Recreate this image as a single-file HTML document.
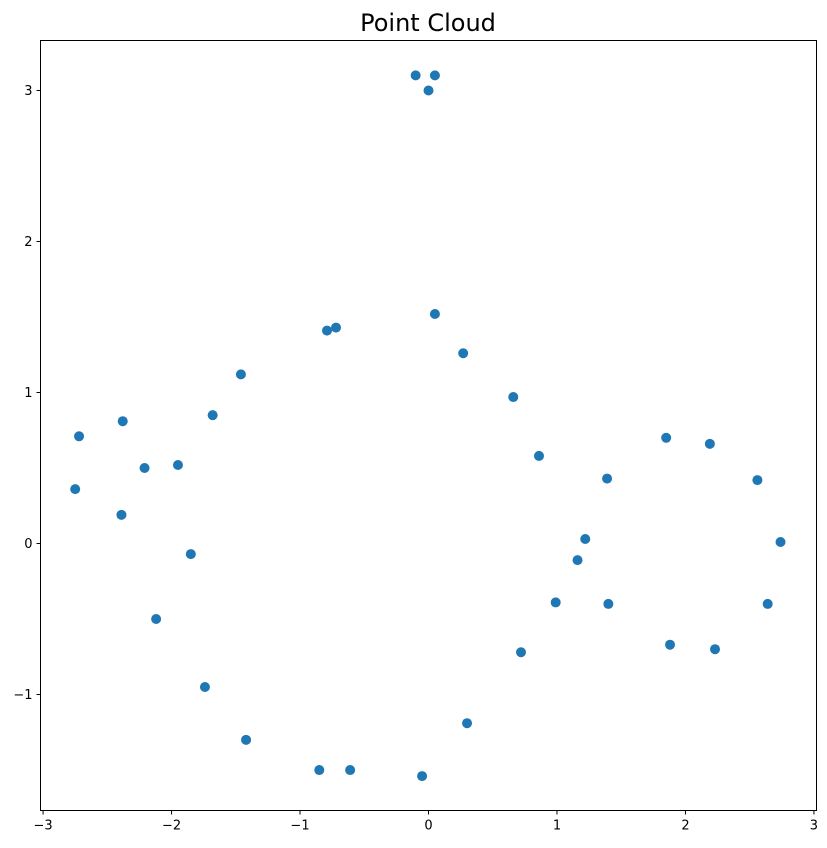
<!DOCTYPE html>
<html><head><meta charset="utf-8"><style>
body{margin:0;background:#fff;font-family:"DejaVu Sans","Liberation Sans",sans-serif}
</style></head><body>
<svg id="chart" width="827" height="844" xmlns="http://www.w3.org/2000/svg" font-family="DejaVu Sans, Liberation Sans, sans-serif">
<rect width="827" height="844" fill="#fff"/>
<text x="428" y="31" text-anchor="middle" font-size="24" fill="#000">Point Cloud</text>
<rect x="40.5" y="40.5" width="776" height="770" fill="none" stroke="#000" stroke-width="1"/>
<g id="marks"></g><g id="axes"></g>
</svg>
<script>
const xs=[-0.10,0.05,0.0,-0.79,-0.72,0.05,0.27,-1.46,0.66,-1.68,-2.72,-2.38,-2.21,-1.95,-2.75,-2.39,-1.85,0.86,1.39,1.85,2.19,2.56,2.74,1.22,1.16,0.99,1.40,2.64,-2.12,1.88,2.23,0.72,-1.74,0.30,-1.42,-0.85,-0.61,-0.05];
const ys=[3.10,3.10,3.0,1.41,1.43,1.52,1.26,1.12,0.97,0.85,0.71,0.81,0.50,0.52,0.36,0.19,-0.07,0.58,0.43,0.70,0.66,0.42,0.01,0.03,-0.11,-0.39,-0.40,-0.40,-0.50,-0.67,-0.70,-0.72,-0.95,-1.19,-1.30,-1.50,-1.50,-1.54];
const xTicks=[-3,-2,-1,0,1,2,3];
const yTicks=[-1,0,1,2,3];
const xMin=-3.02,xMax=3.02,yMin=-1.768,yMax=3.331;
const L=40.5,R=816.5,T=40.5,B=810.5;
const sx=v=>L+(v-xMin)/(xMax-xMin)*(R-L);
const sy=v=>B-(v-yMin)/(yMax-yMin)*(B-T);
const NS="http://www.w3.org/2000/svg";
const marks=document.getElementById('marks'),axes=document.getElementById('axes');
xs.forEach((x,i)=>{
 const c=document.createElementNS(NS,'circle');
 c.setAttribute('cx',sx(x));c.setAttribute('cy',sy(ys[i]));c.setAttribute('r',5);c.setAttribute('fill','#1f77b4');
 
 
 marks.appendChild(c);
});
const fmt=v=>v<0?'\u2212'+Math.abs(v):String(v);
xTicks.forEach(v=>{
 const l=document.createElementNS(NS,'line');
 l.setAttribute('x1',sx(v));l.setAttribute('x2',sx(v));l.setAttribute('y1',B);l.setAttribute('y2',B+4);l.setAttribute('stroke','#000');
 
 
 axes.appendChild(l);
 const t=document.createElementNS(NS,'text');
 t.setAttribute('x',sx(v));t.setAttribute('y',B+19);t.setAttribute('text-anchor','middle');t.setAttribute('font-size','13');
 t.textContent=fmt(v);
 
 
 axes.appendChild(t);
});
yTicks.forEach(v=>{
 const l=document.createElementNS(NS,'line');
 l.setAttribute('x1',L-4);l.setAttribute('x2',L);l.setAttribute('y1',sy(v));l.setAttribute('y2',sy(v));l.setAttribute('stroke','#000');
 
 
 axes.appendChild(l);
 const t=document.createElementNS(NS,'text');
 t.setAttribute('x',L-8);t.setAttribute('y',sy(v)+4.5);t.setAttribute('text-anchor','end');t.setAttribute('font-size','13');
 t.textContent=fmt(v);
 
 
 axes.appendChild(t);
});
</script>
</body></html>
